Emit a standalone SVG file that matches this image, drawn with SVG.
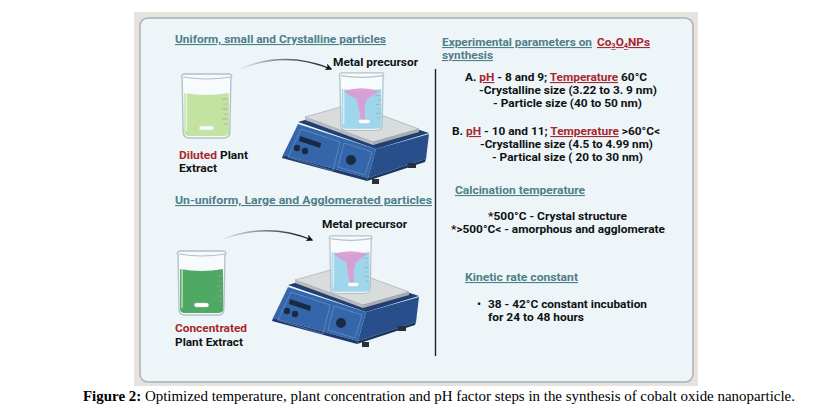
<svg xmlns="http://www.w3.org/2000/svg" xmlns:xlink="http://www.w3.org/1999/xlink" width="813" height="408" viewBox="0 0 813 408">
<style>
  .t { font-family: Roboto, "Liberation Sans", sans-serif; font-weight: bold; font-size: 11px; fill: #111; }
  .h { fill: #4e8087; text-decoration: underline; }
  .r { fill: #a8272d; }
  .u { text-decoration: underline; }
  .cap { font-family: "Liberation Serif", serif; font-size: 14px; fill: #000; }
  .glassback { fill: #ffffff; fill-opacity: 0.6; }
  .glass { fill: none; stroke: #b3c1c6; stroke-width: 1.3; }
  .rim { fill: none; stroke: #b3c1c6; stroke-width: 1.2; }
  .grad { stroke: #8fa8b0; stroke-width: 0.7; }
  .bar { fill: #ffffff; stroke: #d0d8d8; stroke-width: 0.5; }
  .conn { fill: none; stroke: url(#fade); stroke-width: 1.3; }
</style>
<defs>
  <linearGradient id="fade" x1="0" y1="0" x2="1" y2="0">
    <stop offset="0" stop-color="#222" stop-opacity="0.05"/>
    <stop offset="0.5" stop-color="#222" stop-opacity="0.6"/>
    <stop offset="1" stop-color="#111" stop-opacity="1"/>
  </linearGradient>
  <marker id="ah" viewBox="0 0 10 10" refX="8" refY="5" markerWidth="7" markerHeight="7" orient="auto" markerUnits="userSpaceOnUse">
    <path d="M0,0 L10,5 L0,10 L2.5,5 Z" fill="#111"/>
  </marker>
  <path id="beakerBack" class="glassback" d="M2,5 Q0,2 4,1 L47,1 Q50,2 48,5 L47,59 Q47,65 41,65 L9,65 Q3,65 3,59 Z"/>
  <g id="beakerGlass">
    <path class="glass" d="M2,5 Q0,2 4,1 L47,1 Q50,2 48,5 L47,59 Q47,65 41,65 L9,65 Q3,65 3,59 Z"/>
    <path class="rim" d="M3,4 Q25,8 48,4"/>
    <path d="M6,10 L6,58" stroke="#ffffff" stroke-opacity="0.6" stroke-width="1.5"/>
    <g class="grad">
      <line x1="40" y1="26" x2="45" y2="26"/>
      <line x1="42" y1="31" x2="45" y2="31"/>
      <line x1="40" y1="36" x2="45" y2="36"/>
      <line x1="42" y1="41" x2="45" y2="41"/>
      <line x1="40" y1="46" x2="45" y2="46"/>
      <line x1="42" y1="51" x2="45" y2="51"/>
    </g>
  </g>
  <g id="hotplate">
    <polygon points="288,285 339,270 419,296 366,312" fill="#213f73"/>
    <polygon points="295,280 341,267 409,292 363,305" fill="#d9dcdc" stroke="#aeb3b6" stroke-width="0.8"/>
    <polygon points="295,280 363,305 363,308 295,283" fill="#b7bcc0"/>
    <polygon points="363,305 409,292 409,295 363,308" fill="#a9aeb2"/>
    <polygon points="288,287 366,312 358,341 273,318" fill="#3566a9"/>
    <polygon points="366,312 419,297 416,322 358,341" fill="#284f8c"/>
    <polygon points="273,318 358,341 357,344 272,321" fill="#1f3b6b"/>
    <polygon points="358,341 416,322 415,325 357,344" fill="#1c335c"/>
    <polygon points="291,292 330,305 323,334 278,320" fill="none" stroke="#6a9bd8" stroke-width="0.6"/>
    <polygon points="334,306 362,315 355,338 328,330" fill="none" stroke="#6a9bd8" stroke-width="0.6"/>
    <polygon points="290,299 311,306 310,311 289,304" fill="#1b2a44"/>
    <circle cx="287" cy="311" r="3.2" fill="#1b2a44"/>
    <circle cx="295" cy="314" r="3.2" fill="#1b2a44"/>
    <circle cx="341" cy="323" r="5" fill="#1b2a44"/>
    <rect x="362" y="342" width="7" height="5" fill="#2a2f3a"/>
    <rect x="398" y="326" width="8" height="5" fill="#2a2f3a"/>
  </g>
  <path id="vortex" d="M6,21 Q25,15 44,21 Q37,26 31,30 Q27,40 29,52 Q26,57 24,52 Q22,40 20,30 Q12,26 6,21 Z" fill="#dc9ad2" fill-opacity="0.9"/>
  <path id="blueLiquid" d="M4,19 Q25,23 46,19 L46.5,59 Q46,63 41,63 L9,63 Q4,63 4,59 Z" fill="#9fd6ec"/>
</defs>

<rect x="134" y="12" width="564" height="374" fill="#e8e2dd"/>
<rect id="panel" x="140" y="18" width="553" height="364" rx="8" fill="#edf5f9" stroke="#a9b1b8" stroke-width="1.5"/>

<g id="connectors">
  <path class="conn" d="M240,69 Q285,50 331,69" marker-end="url(#ah)"/>
  <path class="conn" d="M223,239 Q268,222 312,240" marker-end="url(#ah)"/>
  <line x1="435.5" y1="69" x2="435.5" y2="356" stroke="#222" stroke-width="1.4"/>
</g>

<g id="heading-uniform">
  <text class="t h" x="175" y="43" textLength="211" lengthAdjust="spacingAndGlyphs">Uniform, small and Crystalline particles</text>
</g>
<g id="diluted-extract">
  <g transform="translate(180,73) scale(1.06,1)">
    <use xlink:href="#beakerBack"/>
    <path d="M4,20 Q25,24 46,20 L46.5,59 Q46,63 41,63 L9,63 Q4,63 4,59 Z" fill="#c3e3a0"/>
    <rect class="bar" x="18" y="53" width="14" height="4" rx="2"/>
    <use xlink:href="#beakerGlass"/>
  </g>
  <text class="t" x="179" y="159" textLength="69" lengthAdjust="spacingAndGlyphs"><tspan class="r">Diluted</tspan> Plant</text>
  <text class="t" x="179" y="172" textLength="38" lengthAdjust="spacingAndGlyphs">Extract</text>
</g>
<g id="hotplate-1">
  <use xlink:href="#hotplate" transform="translate(10,-163)"/>
  <g transform="translate(338,72) scale(0.94,0.9)">
    <use xlink:href="#beakerBack"/>
    <use xlink:href="#blueLiquid"/>
    <use xlink:href="#vortex"/>
    <rect class="bar" x="22" y="53" width="12" height="4" rx="2"/>
    <use xlink:href="#beakerGlass"/>
  </g>
  <text class="t" x="333" y="66" textLength="85" lengthAdjust="spacingAndGlyphs">Metal precursor</text>
</g>

<g id="heading-ununiform">
  <text class="t h" x="175" y="204" textLength="257" lengthAdjust="spacingAndGlyphs">Un-uniform, Large and Agglomerated particles</text>
</g>
<g id="concentrated-extract">
  <g transform="translate(176,250) scale(1.02,1)">
    <use xlink:href="#beakerBack"/>
    <path d="M4,19 Q25,23 46,19 L46.5,59 Q46,63 41,63 L9,63 Q4,63 4,59 Z" fill="#4fa863"/>
    <rect class="bar" x="18" y="53" width="14" height="4" rx="2"/>
    <use xlink:href="#beakerGlass"/>
  </g>
  <text class="t r" x="175" y="332" textLength="72" lengthAdjust="spacingAndGlyphs">Concentrated</text>
  <text class="t" x="175" y="346" textLength="68" lengthAdjust="spacingAndGlyphs">Plant Extract</text>
</g>
<g id="hotplate-2">
  <use xlink:href="#hotplate"/>
  <g transform="translate(328,235) scale(0.9,0.9)">
    <use xlink:href="#beakerBack"/>
    <use xlink:href="#blueLiquid"/>
    <use xlink:href="#vortex"/>
    <rect class="bar" x="22" y="53" width="12" height="4" rx="2"/>
    <use xlink:href="#beakerGlass"/>
  </g>
  <text class="t" x="322" y="228" textLength="85" lengthAdjust="spacingAndGlyphs">Metal precursor</text>
</g>

<g id="experimental-parameters">
  <text class="t h" x="442" y="46" textLength="150" lengthAdjust="spacingAndGlyphs">Experimental parameters on</text>
  <text class="t r u" x="597" y="46" textLength="53" lengthAdjust="spacingAndGlyphs">Co<tspan font-size="7" dy="2">3</tspan><tspan dy="-2">O</tspan><tspan font-size="7" dy="2">4</tspan><tspan dy="-2">NPs</tspan></text>
  <text class="t h" x="442" y="59" textLength="51" lengthAdjust="spacingAndGlyphs">synthesis</text>
  <text class="t" x="465" y="81" textLength="182" lengthAdjust="spacingAndGlyphs">A. <tspan class="r u">pH</tspan> - 8 and 9; <tspan class="r u">Temperature</tspan> 60°C</text>
  <text class="t" x="479" y="94" textLength="178" lengthAdjust="spacingAndGlyphs">-Crystalline size (3.22 to 3. 9 nm)</text>
  <text class="t" x="493" y="107" textLength="149" lengthAdjust="spacingAndGlyphs">- Particle size (40 to 50 nm)</text>
  <text class="t" x="452" y="135" textLength="208" lengthAdjust="spacingAndGlyphs">B. <tspan class="r u">pH</tspan> - 10 and 11; <tspan class="r u">Temperature</tspan> &gt;60°C&lt;</text>
  <text class="t" x="480" y="148" textLength="173" lengthAdjust="spacingAndGlyphs">-Crystalline size (4.5 to 4.99 nm)</text>
  <text class="t" x="492" y="161" textLength="151" lengthAdjust="spacingAndGlyphs">- Partical size ( 20 to 30 nm)</text>
</g>
<g id="calcination">
  <text class="t h" x="455" y="194" textLength="130" lengthAdjust="spacingAndGlyphs">Calcination temperature</text>
  <text class="t" x="488" y="220" textLength="139" lengthAdjust="spacingAndGlyphs">*500°C - Crystal structure</text>
  <text class="t" x="451" y="233" textLength="214" lengthAdjust="spacingAndGlyphs">*&gt;500°C&lt; - amorphous and agglomerate</text>
</g>
<g id="kinetic">
  <text class="t h" x="465" y="281" textLength="113" lengthAdjust="spacingAndGlyphs">Kinetic rate constant</text>
  <text class="t" x="477" y="308">•</text>
  <text class="t" x="488" y="308" textLength="159" lengthAdjust="spacingAndGlyphs">38 - 42°C constant incubation</text>
  <text class="t" x="488" y="321" textLength="96" lengthAdjust="spacingAndGlyphs">for 24 to 48 hours</text>
</g>

<g id="caption">
  <text class="cap" x="83" y="401" textLength="712" lengthAdjust="spacingAndGlyphs"><tspan font-weight="bold">Figure 2:</tspan> Optimized temperature, plant concentration and pH factor steps in the synthesis of cobalt oxide nanoparticle.</text>
</g>
</svg>
